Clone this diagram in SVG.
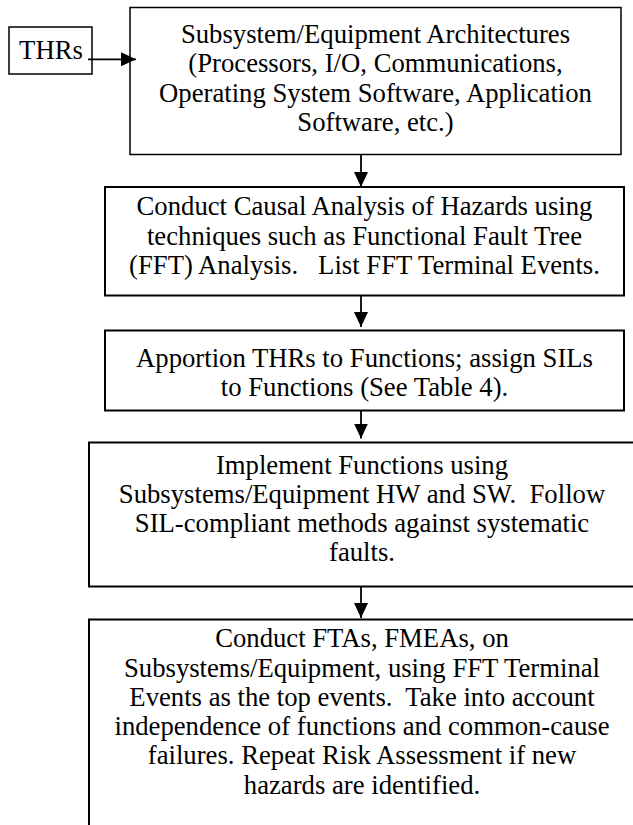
<svg xmlns="http://www.w3.org/2000/svg" width="633" height="825" viewBox="0 0 633 825">
<style>
  .box { fill: #ffffff; stroke: #000000; }
  .thin { stroke-width: 1.5; }
  .thick { stroke-width: 2; }
  .conn { stroke: #000000; stroke-width: 1.8; fill: none; }
</style>
<defs>
  <marker id="arr" markerUnits="userSpaceOnUse" markerWidth="16" markerHeight="14" refX="15" refY="7" orient="auto">
    <path d="M0,0 L15,7 L0,14 z" fill="#000000"/>
  </marker>
</defs>
<rect width="633" height="825" fill="#ffffff"/>

<g font-family="'Liberation Serif', 'Times New Roman', 'DejaVu Serif', serif" font-size="26.7" fill="#000000" text-anchor="middle">
<g id="thrs">
  <rect class="box thin" x="9" y="27" width="83" height="47"/>
  <text x="51" y="59">THRs</text>
</g>

<g id="architectures">
  <rect class="box thin" x="130" y="7.5" width="491" height="147"/>
  <text x="375.5" y="42.5">Subsystem/Equipment Architectures</text>
  <text x="375.5" y="72">(Processors, I/O, Communications,</text>
  <text x="375.5" y="101.5">Operating System Software, Application</text>
  <text x="375.5" y="131">Software, etc.)</text>
</g>

<g id="causal">
  <rect class="box thick" x="105" y="187" width="519" height="108.5"/>
  <text x="364.5" y="215">Conduct Causal Analysis of Hazards using</text>
  <text x="364.5" y="244.5">techniques such as Functional Fault Tree</text>
  <text x="364.5" y="274" xml:space="preserve">(FFT) Analysis.   List FFT Terminal Events.</text>
</g>

<g id="apportion">
  <rect class="box thick" x="105" y="330.5" width="519" height="80"/>
  <text x="364.5" y="366.5">Apportion THRs to Functions; assign SILs</text>
  <text x="364.5" y="395.5">to Functions (See Table 4).</text>
</g>

<g id="implement">
  <rect class="box thick" x="89" y="442.5" width="546" height="144"/>
  <text x="362" y="473.5">Implement Functions using</text>
  <text x="362" y="503" xml:space="preserve">Subsystems/Equipment HW and SW.  Follow</text>
  <text x="362" y="532">SIL-compliant methods against systematic</text>
  <text x="362" y="560.5">faults.</text>
</g>

<g id="fta">
  <rect class="box thick" x="89" y="619.5" width="546" height="220"/>
  <text x="362" y="647">Conduct FTAs, FMEAs, on</text>
  <text x="362" y="676.5">Subsystems/Equipment, using FFT Terminal</text>
  <text x="362" y="705.5" xml:space="preserve">Events as the top events.  Take into account</text>
  <text x="362" y="735">independence of functions and common-cause</text>
  <text x="362" y="764">failures. Repeat Risk Assessment if new</text>
  <text x="362" y="793.5">hazards are identified.</text>
</g>
</g>

<g id="connectors">
  <line class="conn" x1="88" y1="59.3" x2="136" y2="59.3" marker-end="url(#arr)"/>
  <line class="conn" x1="361" y1="154.5" x2="361" y2="187" marker-end="url(#arr)"/>
  <line class="conn" x1="361" y1="296" x2="361" y2="327" marker-end="url(#arr)"/>
  <line class="conn" x1="361" y1="411" x2="361" y2="438.5" marker-end="url(#arr)"/>
  <line class="conn" x1="361" y1="587" x2="361" y2="618" marker-end="url(#arr)"/>
</g>
</svg>
